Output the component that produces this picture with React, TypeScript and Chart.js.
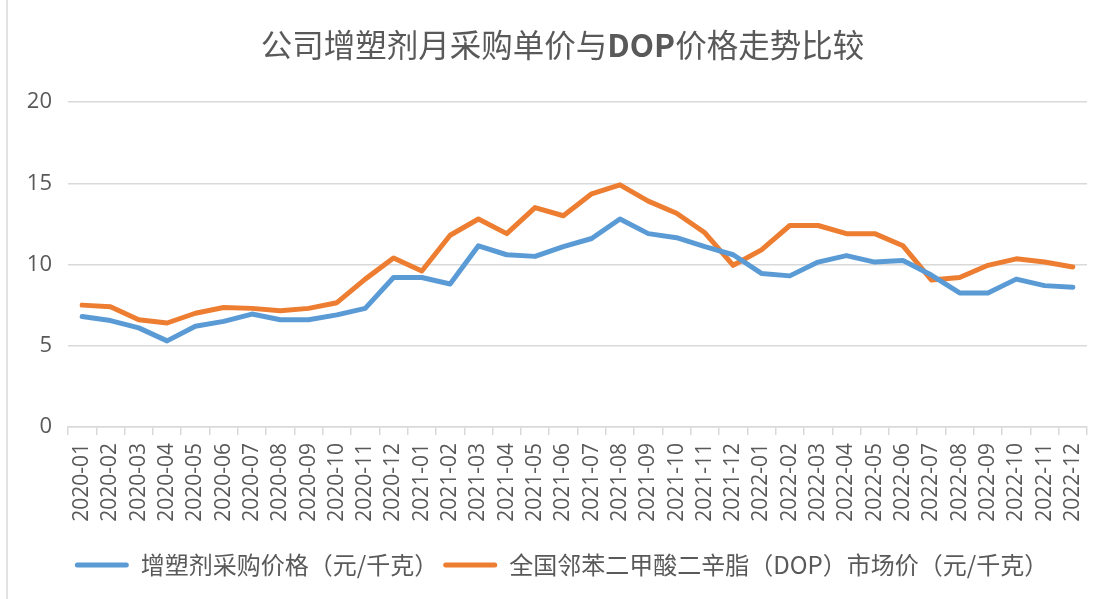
import { useEffect, useRef } from 'react';
import { Chart, registerables } from 'chart.js';

Chart.register(...registerables);

const categories = [
  '2020-01', '2020-02', '2020-03', '2020-04', '2020-05', '2020-06',
  '2020-07', '2020-08', '2020-09', '2020-10', '2020-11', '2020-12',
  '2021-01', '2021-02', '2021-03', '2021-04', '2021-05', '2021-06',
  '2021-07', '2021-08', '2021-09', '2021-10', '2021-11', '2021-12',
  '2022-01', '2022-02', '2022-03', '2022-04', '2022-05', '2022-06',
  '2022-07', '2022-08', '2022-09', '2022-10', '2022-11', '2022-12',
];

const purchasePrice = [
  6.8, 6.55, 6.1, 5.3, 6.2, 6.5, 6.95, 6.6, 6.6, 6.9, 7.3, 9.2,
  9.2, 8.8, 11.15, 10.6, 10.5, 11.1, 11.6, 12.8, 11.9, 11.65, 11.1, 10.6,
  9.45, 9.3, 10.15, 10.55, 10.15, 10.25, 9.35, 8.25, 8.25, 9.1, 8.7, 8.6,
];

const dopPrice = [
  7.5, 7.4, 6.6, 6.4, 7.0, 7.35, 7.3, 7.15, 7.3, 7.65, 9.1, 10.4,
  9.6, 11.8, 12.8, 11.9, 13.5, 13.0, 14.35, 14.9, 13.9, 13.15, 11.95, 9.95,
  10.9, 12.4, 12.4, 11.9, 11.9, 11.15, 9.05, 9.2, 9.95, 10.35, 10.15, 9.85,
];

const yTicks = [0, 5, 10, 15, 20];

const seriesNames = ['增塑剂采购价格（元/千克）', '全国邻苯二甲酸二辛脂（DOP）市场价（元/千克）'];
const titleParts = [
  { text: '公司增塑剂月采购单价与', bold: false },
  { text: 'DOP', bold: true },
  { text: '价格走势比较', bold: false },
];

const CJK = '"Noto Sans CJK SC", "Open Sans", sans-serif';
const TEXT = '#595959';
const GRID = '#d9d9d9';

const titlePlugin = {
  id: 'mixedTitle',
  afterDraw(chart: any) {
    const ctx = chart.ctx;
    ctx.save();
    ctx.fillStyle = TEXT;
    ctx.textBaseline = 'middle';
    const size = 31.5;
    const widths = titleParts.map((p) => {
      ctx.font = `${p.bold ? 'bold ' : ''}${size}px ${CJK}`;
      return ctx.measureText(p.text).width;
    });
    const total = widths.reduce((a, b) => a + b, 0);
    let x = chart.width / 2 + 6 - total / 2;
    titleParts.forEach((p, i) => {
      ctx.font = `${p.bold ? 'bold ' : ''}${size}px ${CJK}`;
      ctx.textAlign = 'left';
      ctx.fillText(p.text, x, 45);
      x += widths[i];
    });
    ctx.restore();
  },
};

const framePlugin = {
  id: 'frame',
  afterLayout(chart: any) {
    if (chart.legend) {
      chart.legend.left += 14;
      chart.legend.right += 14;
    }
  },
  beforeDraw(chart: any) {
    const ctx = chart.ctx;
    ctx.save();
    ctx.fillStyle = '#ffffff';
    ctx.fillRect(0, 0, chart.width, chart.height);
    ctx.strokeStyle = GRID;
    ctx.lineWidth = 1.5;
    ctx.beginPath();
    ctx.moveTo(7, 0);
    ctx.lineTo(7, chart.height);
    ctx.stroke();
    ctx.restore();
  },
};

export default function App() {
  const ref = useRef<HTMLCanvasElement>(null);
  useEffect(() => {
    const chart = new Chart(ref.current as HTMLCanvasElement, {
      type: 'line',
      data: {
        labels: categories,
        datasets: [
          {
            label: seriesNames[0],
            data: purchasePrice,
            borderColor: '#5B9BD5',
            backgroundColor: '#5B9BD5',
            borderWidth: 5,
            pointRadius: 0,
            tension: 0,
            borderCapStyle: 'round',
            borderJoinStyle: 'round',
          },
          {
            label: seriesNames[1],
            data: dopPrice,
            borderColor: '#ED7D31',
            backgroundColor: '#ED7D31',
            borderWidth: 5,
            pointRadius: 0,
            tension: 0,
            borderCapStyle: 'round',
            borderJoinStyle: 'round',
          },
        ],
      },
      options: {
        responsive: false,
        animation: false,
        layout: { padding: { top: 102, left: 8, right: 26, bottom: 12 } },
        plugins: {
          title: { display: false },
          tooltip: { enabled: false },
          legend: {
            position: 'bottom',
            labels: {
              boxWidth: 54,
              boxHeight: 5,
              padding: 5,
              color: TEXT,
              font: { family: CJK, size: 24 },
              useBorderRadius: true,
              borderRadius: 2.5,
              generateLabels: (c: any) =>
                c.data.datasets.map((ds: any, i: number) => ({
                  text: ds.label,
                  fillStyle: ds.borderColor,
                  strokeStyle: ds.borderColor,
                  lineWidth: 0,
                  hidden: false,
                  datasetIndex: i,
                  fontColor: TEXT,
                  borderRadius: 2.5,
                })),
            },
          },
        },
        scales: {
          x: {
            offset: true,
            grid: {
              drawOnChartArea: false,
              drawTicks: true,
              tickLength: 8,
              color: GRID,
              lineWidth: 1.5,
              offset: true,
            },
            border: { display: true, color: GRID, width: 1.5 },
            ticks: {
              autoSkip: false,
              minRotation: 90,
              maxRotation: 90,
              padding: 8,
              color: TEXT,
              font: { family: '"Open Sans", sans-serif', size: 21 },
            },
            afterFit: (s: any) => {
              s.height = 121;
            },
          },
          y: {
            min: 0,
            max: 20,
            afterBuildTicks: (s: any) => {
              s.ticks = yTicks.map((v) => ({ value: v }));
            },
            grid: { color: GRID, lineWidth: 1.5, drawTicks: false },
            border: { display: false },
            ticks: {
              padding: 16,
              color: TEXT,
              font: { family: '"Open Sans", sans-serif', size: 22 },
            },
            afterFit: (s: any) => {
              s.width = 60;
            },
          },
        },
      },
      plugins: [titlePlugin, framePlugin],
    } as any);
    return () => chart.destroy();
  }, []);
  return (
    <canvas
      ref={ref}
      width={1113}
      height={599}
      style={{ position: 'absolute', left: 0, top: 0, width: 1113, height: 599 }}
    />
  );
}
